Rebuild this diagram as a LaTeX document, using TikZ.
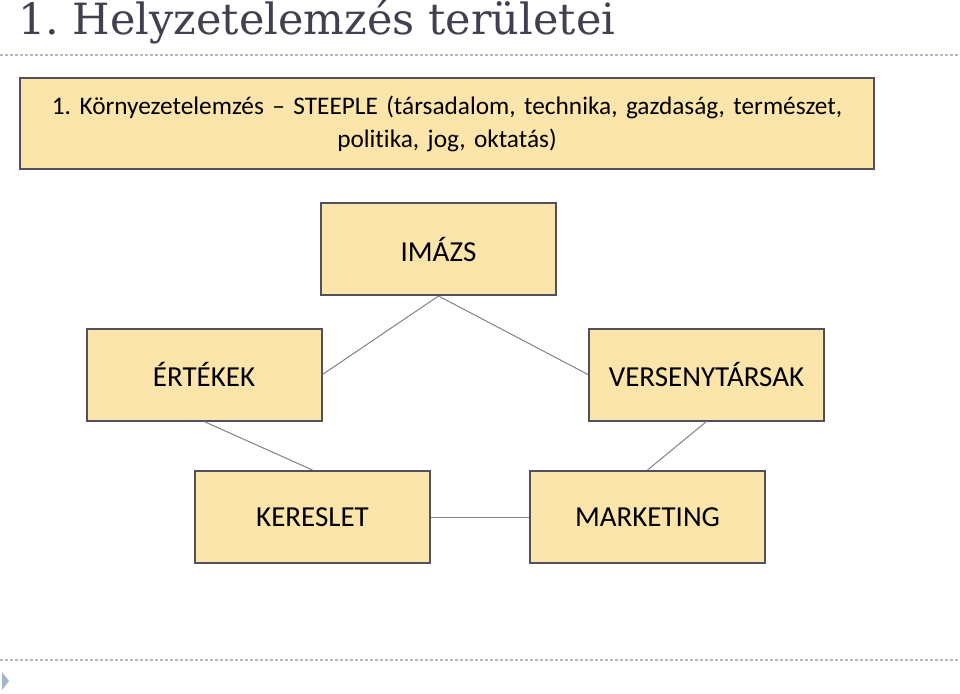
\documentclass[tikz,border=0pt]{standalone}
\usepackage{fontspec}
\newfontfamily\boxfont[Ligatures={TeX,NoCommon}]{Carlito}
\newfontfamily\titlefont{DejaVu Serif}
\usepackage{tikz}
\usetikzlibrary{positioning}
\definecolor{boxfill}{HTML}{FCE5AA}
\definecolor{boxline}{HTML}{50505E}
\definecolor{linkgray}{HTML}{80808E}
\definecolor{titlegray}{HTML}{404050}
\definecolor{rulegray}{HTML}{B4B8C2}
\definecolor{bulletblue}{HTML}{A2B6CA}
\frenchspacing
\tikzset{
  catblock/.style={
    rectangle,
    draw=boxline,
    fill=boxfill,
    line width=2pt,
    text centered,
    minimum width=235pt,
    minimum height=92pt,
    font=\boxfont\fontsize{29}{33}\selectfont,
  },
  envblock/.style={
    rectangle,
    draw=boxline,
    fill=boxfill,
    line width=2pt,
    text centered,
    minimum width=854pt,
    minimum height=91pt,
    text width=840pt,
    align=center,
    font=\boxfont\fontsize{25.3}{33}\selectfont,
  },
  link/.style={
    draw=linkgray,
    line width=1pt
  },
  sliderule/.style={
    draw=rulegray,
    line width=1.2pt,
    dash pattern=on 3pt off 2pt
  }
}
\begin{document}
\begin{tikzpicture}[x=1pt, y=-1pt]
  \useasboundingbox (0,0) rectangle (960,693);

  % Slide title and rules
  \node [anchor=base west, inner sep=0pt, text=titlegray,
         font=\titlefont\fontsize{43}{43}\selectfont] (title) at (18,35)
        {1. Helyzetelemzés területei};
  \coordinate (ruleTL) at (0,55);
  \coordinate (ruleTR) at (960,55);
  \coordinate (ruleBL) at (0,660);
  \coordinate (ruleBR) at (960,660);
  \draw [sliderule] (ruleTL) -- (ruleTR);
  \draw [sliderule] (ruleBL) -- (ruleBR);
  \fill [bulletblue] (2,672) -- (9,681) -- (2,690) -- cycle;

  % Environment analysis box
  \node [envblock] (env) at (447,123.5)
        {1. Környezetelemzés – STEEPLE (társadalom, technika, gazdaság, természet,\\
         politika, jog, oktatás)};

  % Category boxes
  \node [catblock] (imazs)    at (438.5,249) {IMÁZS};
  \node [catblock] (ertekek)  at (204,374.5) {ÉRTÉKEK};
  \node [catblock] (verseny)  at (706.5,374.5) {VERSENYTÁRSAK};
  \node [catblock] (kereslet) at (312.5,517) {KERESLET};
  \node [catblock] (marketing) at (647.5,517) {MARKETING};

  % Links
  \draw [link] (imazs.south) -- (ertekek.east);
  \draw [link] (imazs.south) -- (verseny.west);
  \draw [link] (ertekek.south) -- (kereslet.north);
  \draw [link] (verseny.south) -- (marketing.north);
  \draw [link] (kereslet.east) -- (marketing.west);
\end{tikzpicture}
\end{document}
